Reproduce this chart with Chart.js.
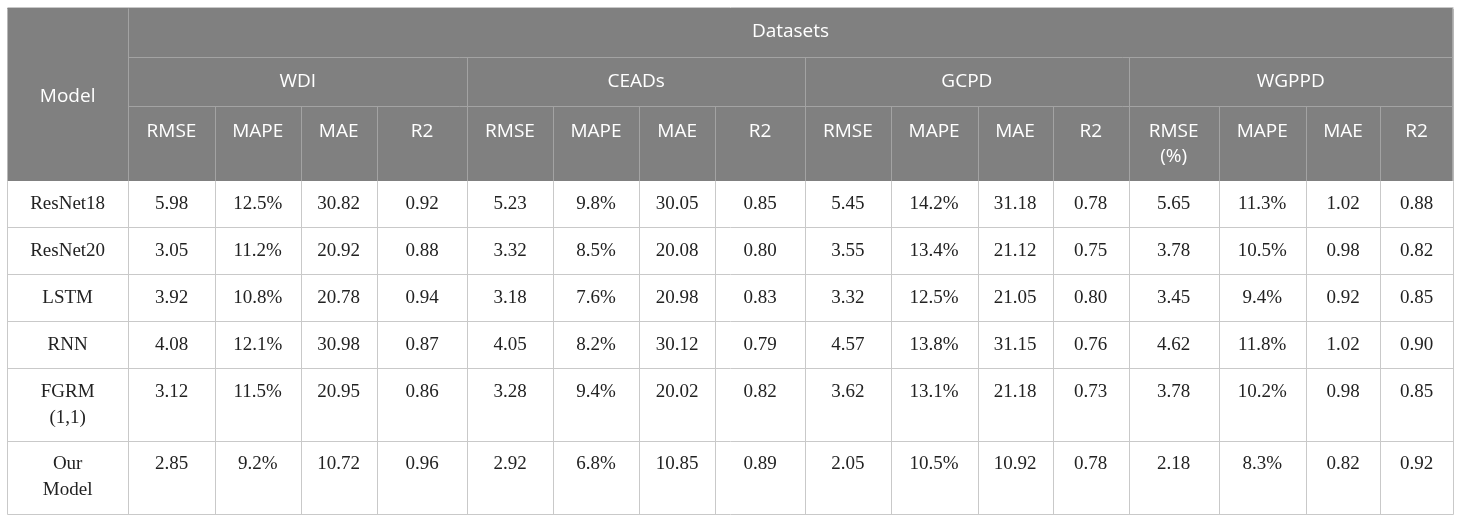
<!DOCTYPE html>
<html>
<head>
<meta charset="utf-8">
<script src="https://cdn.jsdelivr.net/npm/chart.js@4.4.1/dist/chart.umd.min.js"></script>
<style>
html,body{margin:0;padding:0;background:#fff;}
#wrap{width:1460px;height:522px;position:relative;}
</style>
</head>
<body>
<div id="wrap"><canvas id="c"></canvas></div>
<script>
// ---- data ----
const models = [['ResNet18'],['ResNet20'],['LSTM'],['RNN'],['FGRM','(1,1)'],['Our','Model']];
const groups = ['WDI','CEADs','GCPD','WGPPD'];
const metrics = [
  [['RMSE'],['MAPE'],['MAE'],['R2']],
  [['RMSE'],['MAPE'],['MAE'],['R2']],
  [['RMSE'],['MAPE'],['MAE'],['R2']],
  [['RMSE','(%)'],['MAPE'],['MAE'],['R2']]
];
const wdiRMSE = [5.98,3.05,3.92,4.08,3.12,2.85];
const wdiMAPE = [12.5,11.2,10.8,12.1,11.5,9.2];
const wdiMAE  = [30.82,20.92,20.78,30.98,20.95,10.72];
const wdiR2   = [0.92,0.88,0.94,0.87,0.86,0.96];
const ceadsRMSE = [5.23,3.32,3.18,4.05,3.28,2.92];
const ceadsMAPE = [9.8,8.5,7.6,8.2,9.4,6.8];
const ceadsMAE  = [30.05,20.08,20.98,30.12,20.02,10.85];
const ceadsR2   = [0.85,0.80,0.83,0.79,0.82,0.89];
const gcpdRMSE = [5.45,3.55,3.32,4.57,3.62,2.05];
const gcpdMAPE = [14.2,13.4,12.5,13.8,13.1,10.5];
const gcpdMAE  = [31.18,21.12,21.05,31.15,21.18,10.92];
const gcpdR2   = [0.78,0.75,0.80,0.76,0.73,0.78];
const wgppdRMSE = [5.65,3.78,3.45,4.62,3.78,2.18];
const wgppdMAPE = [11.3,10.5,9.4,11.8,10.2,8.3];
const wgppdMAE  = [1.02,0.98,0.92,1.02,0.98,0.82];
const wgppdR2   = [0.88,0.82,0.85,0.90,0.85,0.92];

const columns = [
  wdiRMSE,wdiMAPE,wdiMAE,wdiR2,
  ceadsRMSE,ceadsMAPE,ceadsMAE,ceadsR2,
  gcpdRMSE,gcpdMAPE,gcpdMAE,gcpdR2,
  wgppdRMSE,wgppdMAPE,wgppdMAE,wgppdR2
];
const fmt = (ci, v) => (ci % 4 === 1) ? v.toFixed(1) + '%' : v.toFixed(2);

// ---- layout (styling only) ----
const colW = [121.3,86.4,86,76,90.6,85.4,86.6,75.7,90,85.7,86.8,75.2,76,90,87,74.6,72.4];
const rowH = [49,49,75,46.3,47,47,47,72.7,73];
const colEdge = [0]; colW.forEach(w => colEdge.push(colEdge[colEdge.length-1] + w));
const rowEdge = [0]; rowH.forEach(h => rowEdge.push(rowEdge[rowEdge.length-1] + h));
const totalW = colEdge[colEdge.length-1], totalH = rowEdge[rowEdge.length-1];

const HEAD_BG = '#808080', HEAD_LINE = '#a3a3a3', BODY_LINE = '#c9c9c9';
const HEAD_FONT = '19px "Open Sans"', BODY_FONT = '19px "Liberation Serif"';

const tablePlugin = {
  id: 'tablePlugin',
  beforeDatasetsDraw(chart) {
    const ctx = chart.ctx, sx = chart.scales.x, sy = chart.scales.y;
    const X = v => sx.getPixelForValue(v), Y = v => sy.getPixelForValue(v);
    const hx = i => Math.round(X(colEdge[i])) + 0.5;
    const hy = i => Math.round(Y(rowEdge[i])) + 0.5;
    ctx.save();
    ctx.fillStyle = HEAD_BG;
    ctx.fillRect(X(0), Y(0), X(totalW) - X(0), Y(rowEdge[3]) - Y(0));
    const line = (x1,y1,x2,y2,c) => { ctx.strokeStyle = c; ctx.lineWidth = 1; ctx.beginPath(); ctx.moveTo(x1,y1); ctx.lineTo(x2,y2); ctx.stroke(); };
    line(hx(1), hy(1), hx(17), hy(1), HEAD_LINE);
    line(hx(1), hy(2), hx(17), hy(2), HEAD_LINE);
    line(hx(1), hy(0), hx(1), hy(3), HEAD_LINE);
    [5,9,13].forEach(i => line(hx(i), hy(1), hx(i), hy(3), HEAD_LINE));
    for (let i = 2; i < 17; i++) if (![5,9,13].includes(i)) line(hx(i), hy(2), hx(i), hy(3), HEAD_LINE);
    for (let r = 4; r <= 9; r++) line(hx(0), hy(r), hx(17), hy(r), BODY_LINE);
    for (let i = 0; i <= 17; i++) line(hx(i), hy(3), hx(i), hy(9), BODY_LINE);
    line(hx(0), hy(0)-1, hx(17), hy(0)-1, '#c8c8c8');
    line(hx(0), hy(0), hx(0), hy(3), '#b8b8b8');
    line(hx(17), hy(0), hx(17), hy(3), '#b8b8b8');

    const cx = (a,b) => (X(colEdge[a]) + X(colEdge[b])) / 2;
    const drawLines = (lines, x, y0, lh) => lines.forEach((t,k) => ctx.fillText(t, x, y0 + k*lh));
    ctx.textAlign = 'center'; ctx.textBaseline = 'middle';
    ctx.fillStyle = '#ffffff'; ctx.font = HEAD_FONT;
    ctx.fillText('Model', cx(0,1), (Y(0) + Y(rowEdge[3]))/2 + 2);
    ctx.fillText('Datasets', cx(1,17), Y(rowEdge[0]) + 24);
    groups.forEach((g,gi) => ctx.fillText(g, cx(1+gi*4, 5+gi*4), Y(rowEdge[1]) + 24.5));
    metrics.forEach((ms,gi) => ms.forEach((m,mi) => {
      const c = 1 + gi*4 + mi;
      drawLines(m, cx(c,c+1), Y(rowEdge[2]) + 25.5, 25);
    }));
    ctx.fillStyle = '#222222'; ctx.font = BODY_FONT;
    models.forEach((m,r) => {
      const top = Y(rowEdge[3+r]);
      drawLines(m, cx(0,1), top + 23.5, 26);
      columns.forEach((col,ci) => ctx.fillText(fmt(ci, col[r]), cx(ci+1,ci+2), top + 23.5));
    });
    ctx.restore();
  }
};

new Chart(document.getElementById('c'), {
  type: 'scatter',
  data: { datasets: [] },
  options: {
    responsive: true, maintainAspectRatio: false, animation: false,
    layout: { padding: { left: 7, top: 8, right: 7.3, bottom: 8 } },
    plugins: { legend: { display: false }, tooltip: { enabled: false } },
    scales: {
      x: { type: 'linear', min: 0, max: totalW, display: false },
      y: { type: 'linear', min: 0, max: totalH, reverse: true, display: false }
    }
  },
  plugins: [tablePlugin]
});
</script>
</body>
</html>
